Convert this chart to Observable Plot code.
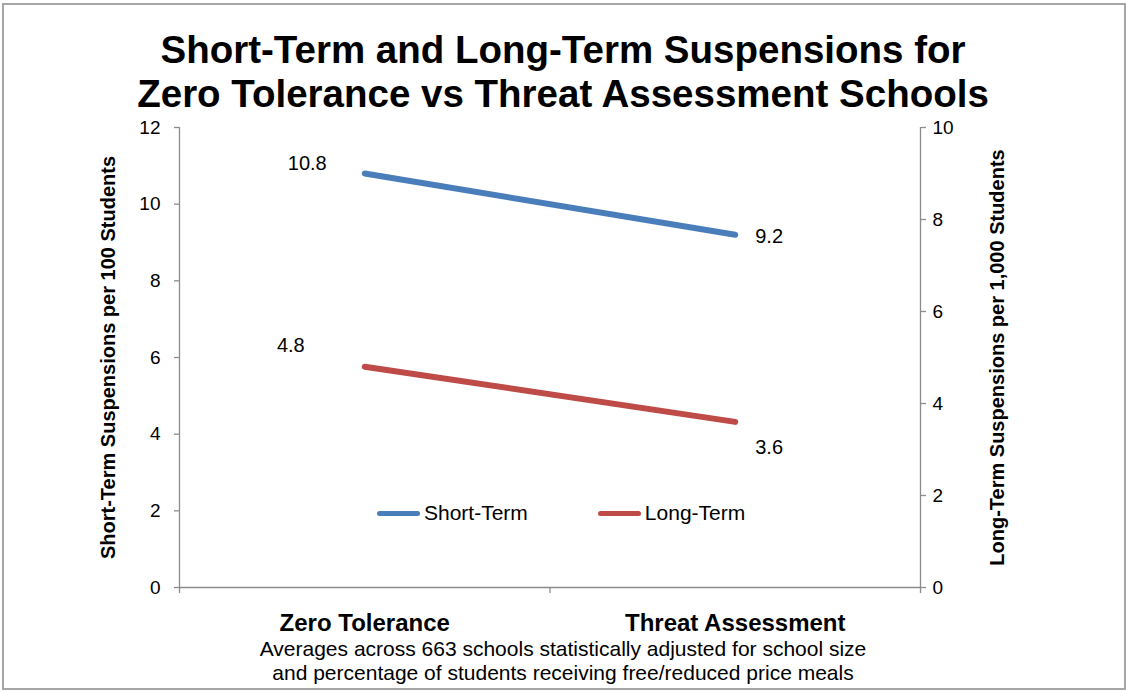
<!DOCTYPE html>
<html>
<head>
<meta charset="utf-8">
<script src="https://cdn.jsdelivr.net/npm/d3@7"></script>
<script src="https://cdn.jsdelivr.net/npm/@observablehq/plot@0.6"></script>
<style>
  html, body { margin: 0; padding: 0; background: #fff; }
  body { font-family: "Liberation Sans", Arial, sans-serif; }
  #wrap { position: relative; width: 1126px; height: 692px; overflow: hidden; }
  #border { position: absolute; left: 2px; top: 3px; width: 1120px; height: 683px; border: 2px solid #a6a6a6; box-sizing: content-box; pointer-events: none; }
  .tline { position: absolute; left: 0; width: 1126px; text-align: center; font-weight: bold; font-size: 38.5px; line-height: 34px; height: 34px; color: #000; }
  #t1 { top: 33px; }
  #t2 { top: 77px; }
  #chart { padding-top: 100px; }
  #chart svg { display: block; }
  #caption { margin-top: -3px; text-align: center; font-size: 21px; line-height: 24px; color: #000; }
  #legend { position: absolute; left: 377px; top: 501px; font-size: 21px; color: #000; display: flex; align-items: center; }
  .item { display: flex; align-items: center; height: 24px; }
  .swatch { width: 43px; height: 5px; border-radius: 3px; margin-right: 4px; }
</style>
</head>
<body>
<div id="wrap">
  <div id="chart"></div>
  <div id="caption">Averages across 663 schools statistically adjusted for school size<br>and percentage of students receiving free/reduced price meals</div>
  <div id="t1" class="tline">Short-Term and Long-Term Suspensions for</div>
  <div id="t2" class="tline">Zero Tolerance vs Threat Assessment Schools</div>
  <div id="legend"></div>
  <div id="border"></div>
</div>
<script>
// ---- data ----
const categories = ["Zero Tolerance", "Threat Assessment"];
const shortTerm = [10.8, 9.2];   // per 100 students (left axis)
const longTerm = [4.8, 3.6];     // per 1,000 students (right axis)
const leftTicks = [0, 2, 4, 6, 8, 10, 12];
const rightTicks = [0, 2, 4, 6, 8, 10];
const seriesNames = ["Short-Term", "Long-Term"];
const seriesColors = ["#4A7EBB", "#BE4B48"];
const leftTitle = "Short-Term Suspensions per 100 Students";
const rightTitle = "Long-Term Suspensions per 1,000 Students";

const leftMax = 12, rightMax = 10;
const k = leftMax / rightMax; // right-axis value -> left-scale value

const stRows = categories.map((c, i) => ({cat: c, i, v: shortTerm[i]}));
const ltRows = categories.map((c, i) => ({cat: c, i, v: longTerm[i]}));
const xPos = d => d.i + 0.5;
const boundaries = d3.range(categories.length + 1);

const axisColor = "#8c8c8c";
const labelFont = {fontSize: 20, fill: "#000"};

const chart = Plot.plot({
  width: 1126,
  height: 540,
  marginLeft: 179,
  marginRight: 206,
  marginTop: 27,
  marginBottom: 53,
  style: {fontFamily: "'Liberation Sans', Arial, sans-serif", background: "transparent", overflow: "visible"},
  x: {type: "linear", domain: [0, categories.length], axis: null},
  y: {domain: [0, leftMax], axis: null},
  marks: [
    Plot.ruleX([0, categories.length], {stroke: axisColor, strokeWidth: 1.3}),
    Plot.ruleY([0], {stroke: axisColor, strokeWidth: 1.3}),
    Plot.axisX(boundaries, {tickSize: 6, tickFormat: () => "", stroke: axisColor, strokeWidth: 1.3}),
    Plot.axisY(leftTicks, {anchor: "left", tickSize: 5, tickPadding: 14, stroke: axisColor, strokeWidth: 1.3,
      fontSize: 19, fill: "#000", label: null}),
    Plot.axisY(rightTicks.map(v => v * k), {anchor: "right", tickSize: 5, tickPadding: 7, stroke: axisColor, strokeWidth: 1.3,
      tickFormat: d => String(Math.round(d / k)), fontSize: 19, fill: "#000", label: null}),
    Plot.text([leftTitle], {frameAnchor: "left", textAnchor: "middle", rotate: -90, dx: -71, fontSize: 20, fontWeight: "bold", fill: "#000"}),
    Plot.text([rightTitle], {frameAnchor: "right", textAnchor: "middle", rotate: -90, dx: 77, fontSize: 20, fontWeight: "bold", fill: "#000"}),
    Plot.text(categories, {x: (d, i) => i + 0.5, frameAnchor: "bottom", dy: 43, fontSize: 24, fontWeight: "bold", fill: "#000"}),
    Plot.line(stRows, {x: xPos, y: "v", stroke: seriesColors[0], strokeWidth: 6, strokeLinecap: "round"}),
    Plot.line(ltRows, {x: xPos, y: d => d.v * k, stroke: seriesColors[1], strokeWidth: 6, strokeLinecap: "round"}),
    Plot.text(stRows.filter(d => d.i === 0), {x: xPos, y: "v", text: d => d.v.toFixed(1), textAnchor: "end", dx: -38, dy: -10, ...labelFont}),
    Plot.text(stRows.filter(d => d.i === 1), {x: xPos, y: "v", text: d => d.v.toFixed(1), textAnchor: "start", dx: 20, dy: 2, ...labelFont}),
    Plot.text(ltRows.filter(d => d.i === 0), {x: xPos, y: d => d.v * k, text: d => d.v.toFixed(1), textAnchor: "end", dx: -60, dy: -21, ...labelFont}),
    Plot.text(ltRows.filter(d => d.i === 1), {x: xPos, y: d => d.v * k, text: d => d.v.toFixed(1), textAnchor: "start", dx: 20, dy: 26, ...labelFont})
  ]
});
document.getElementById("chart").appendChild(chart);

const legend = document.getElementById("legend");
seriesNames.forEach((name, i) => {
  const item = document.createElement("div");
  item.className = "item";
  if (i > 0) item.style.marginLeft = "70px";
  const sw = document.createElement("div");
  sw.className = "swatch";
  sw.style.background = seriesColors[i];
  const t = document.createElement("span");
  t.textContent = name;
  item.appendChild(sw);
  item.appendChild(t);
  legend.appendChild(item);
});
</script>
</body>
</html>
